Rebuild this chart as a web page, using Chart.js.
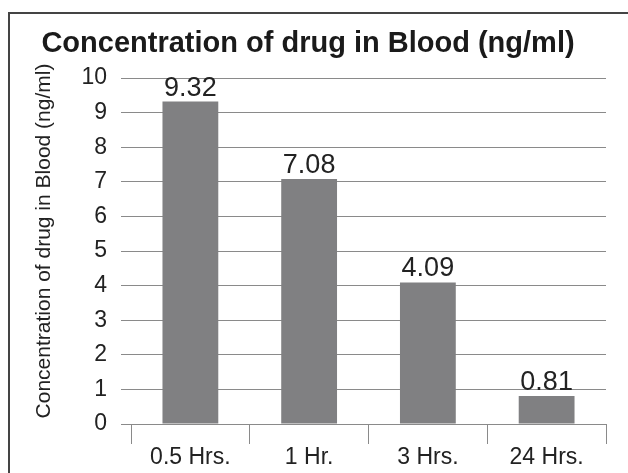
<!DOCTYPE html>
<html>
<head>
<meta charset="utf-8">
<script src="https://cdn.jsdelivr.net/npm/chart.js@4"></script>
<style>
  html, body { margin: 0; padding: 0; background: #fff; }
  body { width: 628px; height: 473px; overflow: hidden; position: relative; }
  #frame {
    position: absolute; left: 8px; top: 12px; width: 620px; height: 461px;
    border-left: 2px solid #444; border-top: 2px solid #444; box-sizing: border-box;
  }
  #wrap { position: absolute; left: 0; top: 0; width: 618px; height: 459px; }
</style>
</head>
<body>
<div id="frame"><div id="wrap"><canvas id="drugChart"></canvas></div></div>
<script>
const categories = ['0.5 Hrs.', '1 Hr.', '3 Hrs.', '24 Hrs.'];
const concentration = [9.32, 7.08, 4.09, 0.81];
const yTicks = [0, 1, 2, 3, 4, 5, 6, 7, 8, 9, 10];
const yTitle = 'Concentration of drug in Blood (ng/ml)';

const FONT = 'Arial, "Liberation Sans", Helvetica, sans-serif';
const GRID = '#8a8a8a';

// values above bars + the rotated axis title (sits a bit above the plot centre)
const barLabels = {
  id: 'barLabels',
  afterDatasetsDraw(chart) {
    const ctx = chart.ctx;
    const meta = chart.getDatasetMeta(0);
    ctx.save();
    ctx.font = '27px ' + FONT;
    ctx.fillStyle = '#222';
    ctx.textAlign = 'center';
    ctx.textBaseline = 'alphabetic';
    meta.data.forEach((bar, i) => {
      ctx.fillText(concentration[i].toFixed(2), bar.x, bar.y - 6);
    });

    const area = chart.chartArea;
    ctx.translate(34, (area.top + area.bottom) / 2 - 10);
    ctx.rotate(-Math.PI / 2);
    ctx.font = '21px ' + FONT;
    ctx.textBaseline = 'middle';
    ctx.fillText(yTitle, 0, 0);
    ctx.restore();
  }
};

new Chart(document.getElementById('drugChart'), {
  type: 'bar',
  data: {
    labels: categories,
    datasets: [{
      label: yTitle,
      data: concentration,
      backgroundColor: '#808082',
      barPercentage: 0.47,
      categoryPercentage: 1,
    }],
  },
  options: {
    responsive: true,
    maintainAspectRatio: false,
    animation: false,
    layout: { padding: { top: 0, right: 22, bottom: 0, left: 0 } },
    plugins: {
      legend: { display: false },
      tooltip: { enabled: false },
      title: {
        display: true,
        text: 'Concentration of drug in Blood (ng/ml)',
        color: '#1a1a1a',
        font: { family: FONT, size: 29, weight: 'bold' },
        padding: { top: 13, bottom: 16.2 },
      },
    },
    scales: {
      x: {
        grid: { display: true, drawOnChartArea: false, drawTicks: true, tickLength: 20, color: GRID, offset: true },
        border: { display: true, color: GRID },
        ticks: { color: '#222', font: { family: FONT, size: 23 }, padding: 0 },
        afterFit(scale) { scale.height = 49; },
      },
      y: {
        min: 0,
        max: 10,
        afterBuildTicks(scale) { scale.ticks = yTicks.map(v => ({ value: v })); },
        grid: { color: GRID, tickLength: 10 },
        border: { display: false },
        ticks: { color: '#222', font: { family: FONT, size: 23 }, padding: 14 },
        afterFit(scale) { scale.width = 121; },
      },
    },
  },
  plugins: [barLabels],
});
</script>
</body>
</html>
